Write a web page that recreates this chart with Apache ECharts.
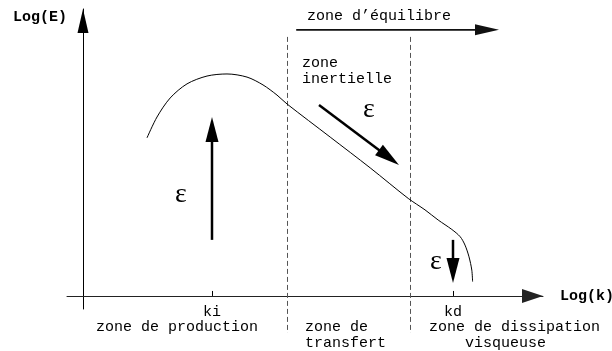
<!DOCTYPE html>
<html>
<head>
<meta charset="utf-8">
<script src="https://cdn.jsdelivr.net/npm/echarts@6/dist/echarts.min.js"></script>
<style>
  html, body { margin: 0; padding: 0; background: #fff; }
  #chart { width: 612px; height: 351px; }
</style>
</head>
<body>
<div id="chart"></div>
<script>
// Schematic turbulent energy spectrum, log-log (arbitrary units)
const spectrumLogK = [1.6, 1.85, 2.18, 2.6, 3.1, 3.6, 4.1, 4.5, 4.85, 5.1, 6.18, 7.18, 8.13, 8.55, 8.88, 9.22, 9.43, 9.55, 9.65, 9.72, 9.74];
const spectrumLogE = [6.06, 6.86, 7.59, 8.13, 8.43, 8.51, 8.39, 8.09, 7.7, 7.36, 6.09, 4.91, 3.74, 3.30, 2.91, 2.55, 2.27, 1.95, 1.50, 0.99, 0.55];

// characteristic wavenumbers marked on the k axis
const kMarks = [3.225, 9.25];
const kMarkLabels = ['ki', 'kd'];

// boundaries between production / transfer / dissipation ranges
const zoneBounds = [5.1, 8.175];
const zoneBoundTop = 9.93;
const zoneBoundBottom = -1.42;

// energy flux arrows [k0, E0, k1, E1]
const fluxArrows = [
  [3.225, 2.15, 3.225, 6.86],
  [5.9, 7.32, 7.9, 5.02],
  [9.25, 2.15, 9.25, 0.5]
];
// equilibrium range arrow
const equilibriumArrow = [[5.33, 10.2, 10.4, 10.2]];

const MONO = '"Liberation Mono", "DejaVu Sans Mono", monospace';
const SERIF = '"Liberation Serif", "DejaVu Serif", serif';

function arrowRenderer(headLen, headW, lineW, color) {
  return function (params, api) {
    const a = api.coord([api.value(0), api.value(1)]);
    const b = api.coord([api.value(2), api.value(3)]);
    const dx = b[0] - a[0], dy = b[1] - a[1];
    const len = Math.hypot(dx, dy);
    const ux = dx / len, uy = dy / len;
    const bx = b[0] - ux * headLen, by = b[1] - uy * headLen;
    const px = -uy * headW / 2, py = ux * headW / 2;
    return {
      type: 'group',
      children: [
        { type: 'line', shape: { x1: a[0], y1: a[1], x2: bx + ux * 2, y2: by + uy * 2 },
          style: { stroke: color, lineWidth: lineW } },
        { type: 'polygon', shape: { points: [[b[0], b[1]], [bx + px, by + py], [bx - px, by - py]] },
          style: { fill: color } }
      ]
    };
  };
}

function boundRenderer(params, api) {
  const t = api.coord([api.value(0), api.value(1)]);
  const b = api.coord([api.value(0), api.value(2)]);
  const x = Math.round(t[0]) + 0.5;
  return {
    type: 'line',
    shape: { x1: x, y1: t[1], x2: x, y2: b[1] },
    style: { stroke: '#555', lineWidth: 1, lineDash: [5, 3] }
  };
}

function label(text, x, y, align, font) {
  return {
    type: 'text', x: x, y: y, silent: true,
    style: { text: text, font: font || ('15px ' + MONO), fill: '#000',
             textAlign: align || 'left', textVerticalAlign: 'middle' }
  };
}

const chart = echarts.init(document.getElementById('chart'), null, { renderer: 'canvas' });

chart.setOption({
  animation: false,
  backgroundColor: '#fff',
  grid: { left: 67, right: 69, top: 9, bottom: 42, containLabel: false, outerBoundsMode: 'none' },
  xAxis: {
    type: 'value', min: -0.4, max: 11.5,
    name: 'Log(k)', nameLocation: 'end', nameGap: 17,
    nameTextStyle: { fontFamily: MONO, fontWeight: 'bold', fontSize: 15, color: '#000',
                     align: 'left', verticalAlign: 'middle' },
    axisLine: {
      onZero: true,
      lineStyle: { color: '#222', width: 1 },
      symbol: ['none', 'path://M7,0L14,21L0,21Z'],
      symbolSize: [14, 21],
      symbolOffset: [0, -10.5]
    },
    axisTick: { show: true, inside: true, length: 5, customValues: kMarks,
                lineStyle: { color: '#000', width: 1 } },
    axisLabel: { show: true, customValues: kMarks, margin: -4,
                 fontFamily: MONO, fontSize: 15, color: '#000',
                 formatter: v => kMarkLabels[kMarks.indexOf(v)] },
    splitLine: { show: false }
  },
  yAxis: {
    type: 'value', min: -0.5, max: 11,
    name: 'Log(E)', nameLocation: 'end', nameGap: -8,
    nameTextStyle: { fontFamily: MONO, fontWeight: 'bold', fontSize: 15, color: '#000',
                     align: 'right', verticalAlign: 'middle', padding: [0, 16, 0, 0] },
    axisLine: {
      onZero: true,
      lineStyle: { color: '#000', width: 1 },
      symbol: ['none', 'path://M5.5,0L11,24L0,24Z'],
      symbolSize: [11, 24],
      symbolOffset: [0, -12]
    },
    axisTick: { show: false },
    axisLabel: { show: false },
    splitLine: { show: false }
  },
  series: [
    {
      type: 'custom', silent: true, clip: false,
      renderItem: boundRenderer,
      encode: { x: 0, y: [1, 2] },
      data: zoneBounds.map(k => [k, zoneBoundTop, zoneBoundBottom])
    },
    {
      type: 'line', silent: true, smooth: 0.3, symbol: 'none',
      lineStyle: { color: '#000', width: 1 },
      data: spectrumLogK.map((k, i) => [k, spectrumLogE[i]])
    },
    {
      type: 'custom', silent: true, clip: false,
      renderItem: arrowRenderer(25, 13, 2.5, '#000'),
      encode: { x: [0, 2], y: [1, 3] },
      data: fluxArrows
    },
    {
      type: 'custom', silent: true, clip: false,
      renderItem: arrowRenderer(24, 11, 1.6, '#111'),
      encode: { x: [0, 2], y: [1, 3] },
      data: equilibriumArrow
    }
  ],
  graphic: [
    label('zone d\u2019équilibre', 307, 16),
    label('zone', 302, 63),
    label('inertielle', 302, 79),
    label('zone de production', 96, 327),
    label('zone de', 305, 327),
    label('transfert', 305, 343),
    label('zone de dissipation', 429, 327),
    label('visqueuse', 465, 343),
    label('\u03b5', 181, 195, 'center', '28px ' + SERIF),
    label('\u03b5', 369, 110, 'center', '28px ' + SERIF),
    label('\u03b5', 436, 262, 'center', '28px ' + SERIF)
  ]
});
</script>
</body>
</html>
